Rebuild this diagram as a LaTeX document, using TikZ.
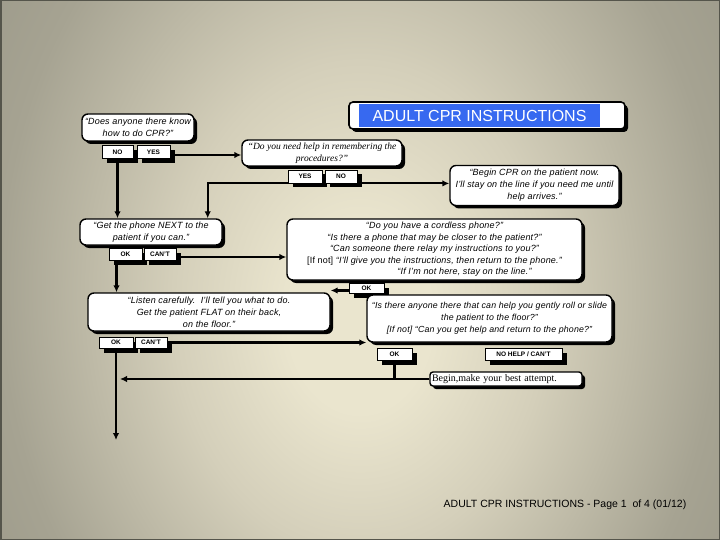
\documentclass[tikz,border=0pt]{standalone}
\usepackage{fontspec}
\usetikzlibrary{arrows.meta,shadows,calc}
\newfontfamily\boxfont[LetterSpace=2]{Liberation Sans}
\newfontfamily\plainsans{Liberation Sans}
\newfontfamily\serfont{Liberation Serif}
\definecolor{bgA}{RGB}{234,229,206}
\definecolor{bgB}{RGB}{212,207,186}
\definecolor{bgC}{RGB}{166,163,146}
\definecolor{bgD}{RGB}{148,146,131}
\definecolor{frame}{RGB}{85,85,75}
\definecolor{titleblue}{RGB}{55,105,240}
\pgfdeclareradialshading{bgshade}{\pgfpoint{0bp}{-3bp}}{color(0bp)=(bgA); color(5bp)=(bgA); color(13bp)=(bgB); color(25bp)=(bgC); color(36bp)=(bgD)}
\tikzset{
  bx/.style={draw=black, line width=1.4pt, fill=white, rounded corners=6pt, align=center, inner sep=0pt,
    font=\boxfont\itshape\fontsize{9}{12}\selectfont,
    drop shadow={shadow xshift=3pt, shadow yshift=-3pt, opacity=1, fill=black}},
  btn/.style={draw=black, line width=0.8pt, fill=white, inner sep=0pt,
    font=\plainsans\bfseries\fontsize{6.5}{7}\selectfont,
    drop shadow={shadow xshift=5pt, shadow yshift=-4.5pt, opacity=1, fill=black}},
  arr/.style={line width=2.2pt, -{Latex[length=7pt,width=6.5pt]}},
  ln/.style={line width=2.2pt}
}
\begin{document}
\begin{tikzpicture}[x=1pt,y=-1pt]
\useasboundingbox (0,0) rectangle (720,540);
\begin{scope}
\clip (0,0) rectangle (720,540);
\shade[shading=bgshade] (0,-200) rectangle (720,740);
\end{scope}
\draw[line width=1.5pt, draw=frame] (0.75,0.75) rectangle (719.25,539.25);

% title
\node[draw=black, line width=1.6pt, fill=white, rounded corners=4pt, minimum width=276pt, minimum height=27pt,
  drop shadow={shadow xshift=3pt, shadow yshift=-3pt, opacity=1, fill=black}] (T) at (487,115.5) {};
\node[fill=titleblue, minimum width=241pt, minimum height=23pt, inner sep=0pt, text=white,
  font=\plainsans\fontsize{16}{18}\selectfont] (Tt) at (479.5,116) {ADULT CPR INSTRUCTIONS};

% boxes
\node[bx, minimum width=112pt, minimum height=27pt] (A) at (138,127.5) {“Does anyone there know\\how to do CPR?”};
\node[btn, minimum width=31pt, minimum height=13pt] (noA) at (117.5,152) {NO};
\node[btn, minimum width=33pt, minimum height=13pt] (yesA) at (153.5,152) {YES};

\node[bx, font=\serfont\itshape\fontsize{9.5}{12}\selectfont, minimum width=160pt, minimum height=26pt] (B) at (322,153) {“Do you need help in remembering the\\procedures?”};
\node[btn, minimum width=34pt, minimum height=13pt] (yesB) at (305,176.5) {YES};
\node[btn, minimum width=32pt, minimum height=13pt] (noB) at (341,176.5) {NO};

\node[bx, minimum width=169pt, minimum height=40pt] (C) at (534.5,185.5) {“Begin CPR on the patient now.\\I’ll stay on the line if you need me until\\help arrives.”};

\node[bx, minimum width=142pt, minimum height=26pt] (D) at (151,232) {“Get the phone NEXT to the\\patient if you can.”};
\node[btn, minimum width=33pt, minimum height=12pt] (okD) at (125.5,254) {OK};
\node[btn, minimum width=32pt, minimum height=12pt] (cantD) at (160,254) {CAN’T};

\node[bx, font=\boxfont\itshape\fontsize{9}{11.5}\selectfont, minimum width=295pt, minimum height=61pt] (E) at (434.5,249.5)
 {“Do you have a cordless phone?”\\“Is there a phone that may be closer to the patient?”\\“Can someone there relay my instructions to you?”\\{\upshape [If not]} “I’ll give you the instructions, then return to the phone.”\\\hspace*{60pt}“If I’m not here, stay on the line.”};
\node[btn, minimum width=35pt, minimum height=10pt] (okE) at (366.5,288.5) {OK};

\node[bx, minimum width=242pt, minimum height=38pt] (G) at (209,312) {“Listen carefully.\ \ I’ll tell you what to do.\\Get the patient FLAT on their back,\\on the floor.”};
\node[btn, minimum width=34pt, minimum height=11pt] (okG) at (116,342.5) {OK};
\node[btn, minimum width=32pt, minimum height=11pt] (cantG) at (151,342.5) {CAN’T};

\node[bx, font=\boxfont\itshape\fontsize{8.8}{12}\selectfont, minimum width=245pt, minimum height=47pt] (F) at (489.5,318.5) {“Is there anyone there that can help you gently roll or slide\\the patient to the floor?”\\{[If not]} “Can you get help and return to the phone?”};
\node[btn, minimum width=35pt, minimum height=12pt] (okF) at (394.5,354) {OK};
\node[btn, minimum width=77pt, minimum height=12pt] (nohF) at (523.5,354) {NO HELP / CAN’T};

\node[bx, rounded corners=3pt, font=\serfont\fontsize{10}{12}\selectfont, minimum width=152pt, minimum height=14pt, text width=148pt, align=left] (H) at (506,379) {Begin,make your best attempt.};

% footer
\node[font=\plainsans\fontsize{10.5}{12}\selectfont] (foot) at (565,505) {ADULT CPR INSTRUCTIONS - Page 1\ \ of 4 (01/12)};

% connectors
\draw[arr] ([yshift=-3pt]yesA.east) -- ([yshift=-3pt]yesA.east -| B.west);
\draw[arr] (noA.south) -- (noA.south |- D.north);
\draw[arr] (yesB.south west) -| ([xshift=-15pt]D.north east);
\draw[arr] (noB.south east) -- (noB.south east -| C.west);
\draw[arr] ([yshift=-3pt]cantD.east) -- ([yshift=-3pt]cantD.east -| E.west);
\draw[arr] ([xshift=-9pt]okD.south) -- ([xshift=-9pt]okD.south |- G.north);
\draw[arr] ([yshift=-2pt]okE.west) -- ([yshift=-2pt]okE.west -| G.north east);
\draw[arr] (cantG.east) -- (cantG.east -| F.west);
\coordinate (gend) at (116,440);
\draw[arr] (okG.south) -- (gend);
\draw[ln] (okF.south) -- (okF.south |- H.west);
\draw[arr] (H.west) -- ([xshift=4pt]H.west -| okG.south);
\end{tikzpicture}
\end{document}
